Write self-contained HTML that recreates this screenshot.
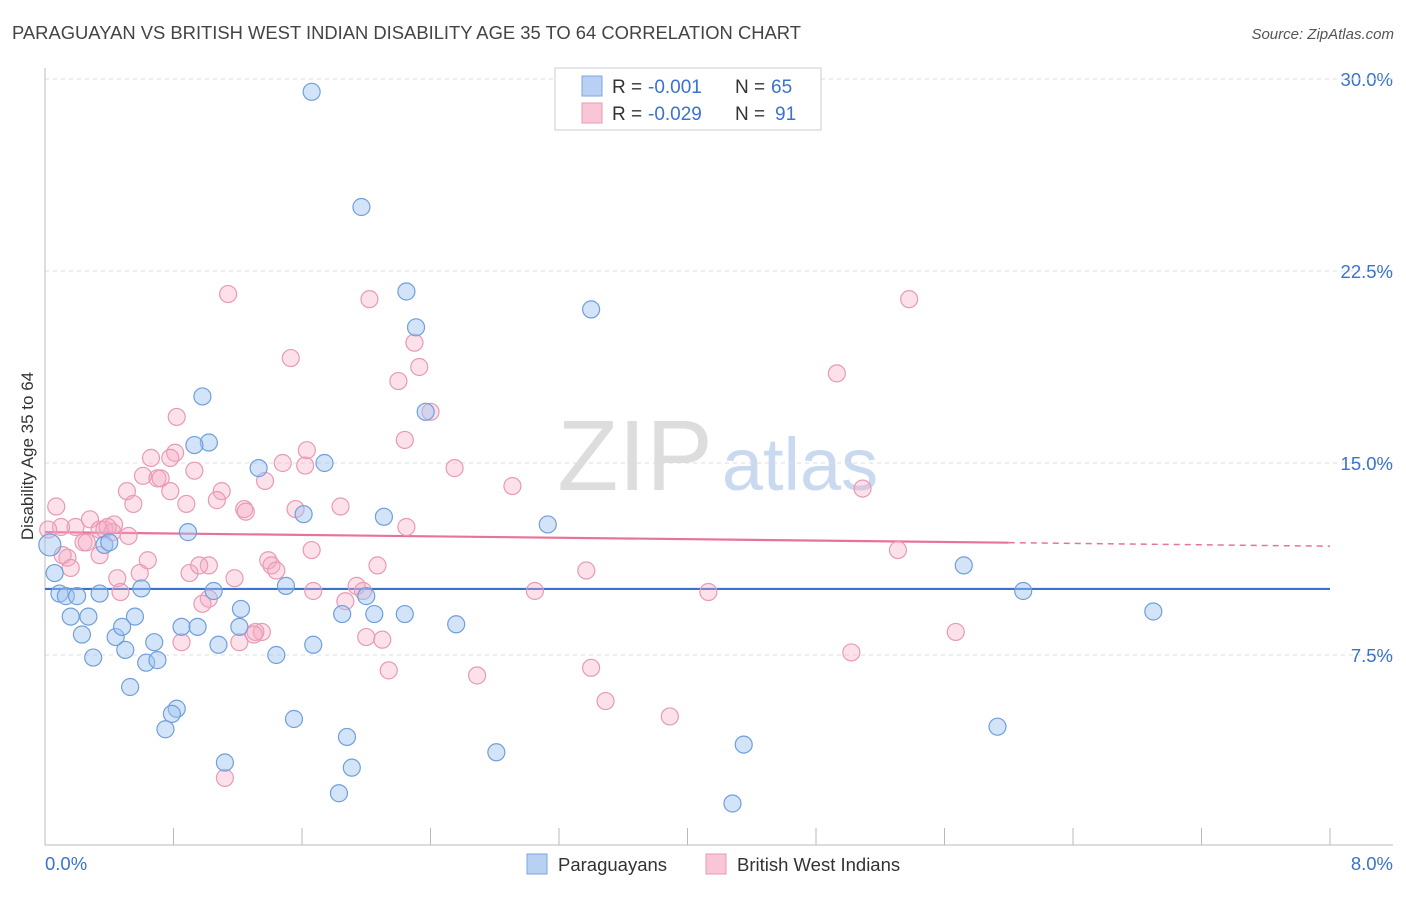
<!DOCTYPE html>
<html><head><meta charset="utf-8"><style>
body{margin:0;background:#fff;font-family:"Liberation Sans",sans-serif}
svg text{font-family:"Liberation Sans",sans-serif}
</style></head><body>
<svg id="chart" width="1406" height="892" xmlns="http://www.w3.org/2000/svg">
<text x="12" y="39" font-size="18.4" fill="#444">PARAGUAYAN VS BRITISH WEST INDIAN DISABILITY AGE 35 TO 64 CORRELATION CHART</text>
<text x="1394" y="39" font-size="15" fill="#555" text-anchor="end" font-style="italic">Source: ZipAtlas.com</text>
<g>
<text x="635" y="490" font-size="100" fill="#ddd" text-anchor="middle" font-family="Liberation Serif,serif">ZIP</text>
<text x="800" y="490" font-size="74" fill="#c9daf0" text-anchor="middle">atlas</text>
</g>
<g id="grid"></g>
<g id="axes"></g>
<g id="trends"></g>
<g id="points"></g>
<text transform="translate(33,456) rotate(-90)" font-size="17" fill="#333" text-anchor="middle">Disability Age 35 to 64</text>
<g>
<rect x="555" y="68" width="266" height="62" fill="#fff" stroke="#ccc"/>
<rect x="582" y="76" width="20" height="20" fill="#b8d1f3" stroke="#7aa6e0"/>
<rect x="582" y="103" width="20" height="20" fill="#f9c6d6" stroke="#e89ab5"/>
<text x="612" y="93" font-size="19" fill="#333">R =</text>
<text x="648" y="93" font-size="19" fill="#3a72d0">-0.001</text>
<text x="735" y="93" font-size="19" fill="#333">N =</text>
<text x="771" y="93" font-size="19" fill="#3a72d0">65</text>
<text x="612" y="120" font-size="19" fill="#333">R =</text>
<text x="648" y="120" font-size="19" fill="#3a72d0">-0.029</text>
<text x="735" y="120" font-size="19" fill="#333">N =</text>
<text x="775" y="120" font-size="19" fill="#3a72d0">91</text>
</g>
<g>
<rect x="527" y="854" width="20" height="20" fill="#b8d1f3" stroke="#7aa6e0"/>
<text x="558" y="871" font-size="18.5" fill="#333">Paraguayans</text>
<rect x="706" y="854" width="20" height="20" fill="#f9c6d6" stroke="#e89ab5"/>
<text x="737" y="871" font-size="18.5" fill="#333">British West Indians</text>
</g>
</svg>
<script>
const yTicks=[7.5,15.0,22.5,30.0];
const xTickLabels=["0.0%","8.0%"];
const blueX=[1.66,1.97,2.25,3.40,2.31,0.98,1.02,0.93,2.37,1.74,1.33,1.61,2.11,3.13,0.89,5.72,6.09,6.90,0.06,0.09,0.13,0.20,0.34,0.60,0.37,0.40,0.16,0.27,0.56,1.05,1.50,1.22,1.85,2.00,2.05,2.24,0.23,0.44,0.48,0.68,0.85,0.95,1.21,1.08,1.67,2.56,0.30,0.50,0.63,0.70,1.44,0.53,0.82,0.79,0.75,1.55,1.88,1.91,2.81,1.12,1.83,4.35,4.28,5.93,0.03];
const blueY=[29.5,25.0,21.7,21.0,20.3,17.6,15.8,15.7,17.0,15.0,14.8,13.0,12.9,12.6,12.3,11.0,10.0,9.2,10.7,9.9,9.8,9.8,9.9,10.1,11.8,11.9,9.0,9.0,9.0,10.0,10.2,9.3,9.1,9.8,9.1,9.1,8.3,8.2,8.6,8.0,8.6,8.6,8.6,7.9,7.9,8.7,7.4,7.7,7.2,7.3,7.5,6.25,5.4,5.2,4.6,5.0,4.3,3.1,3.7,3.3,2.1,4.0,1.7,4.7,11.8];
const pinkX=[1.14,2.02,5.38,1.53,2.30,2.33,2.20,4.93,0.82,2.40,2.24,1.63,0.81,0.66,0.78,1.62,1.48,0.93,2.55,0.61,0.70,0.72,1.37,0.51,0.78,1.10,1.07,0.55,0.88,1.24,1.25,1.56,1.84,2.91,5.09,0.07,0.28,0.19,0.10,0.34,0.37,0.43,0.52,0.24,0.26,0.42,2.25,1.66,5.31,0.14,0.34,0.64,1.39,1.41,2.07,3.37,0.90,1.02,0.96,1.18,0.59,0.45,1.44,0.47,1.67,1.94,3.05,4.13,1.02,0.98,1.87,1.98,1.35,1.31,1.30,1.21,2.00,2.10,0.85,5.67,5.02,3.40,2.14,2.69,3.49,3.89,1.12,0.02,0.16,0.11,0.39];
const pinkY=[21.6,21.4,21.4,19.1,19.7,18.75,18.2,18.5,16.8,17.0,15.9,15.5,15.4,15.2,15.2,14.9,15.0,14.7,14.8,14.5,14.4,14.4,14.3,13.9,13.9,13.9,13.55,13.4,13.4,13.2,13.1,13.2,13.3,14.1,14.0,13.3,12.8,12.5,12.5,12.4,12.4,12.6,12.15,11.9,11.9,12.3,12.5,11.6,11.6,11.3,11.4,11.2,11.2,11.0,11.0,10.8,10.7,11.0,11.0,10.5,10.7,10.5,10.8,9.96,10.0,10.2,10.0,9.96,9.7,9.5,9.6,10.0,8.4,8.4,8.3,8.0,8.2,8.1,8.0,8.4,7.6,7.0,6.9,6.7,5.7,5.1,2.7,12.4,10.9,11.4,12.5];
const blueTrend=[10.08,10.08];
const pinkTrend=[12.3,11.75];
const pinkSolidEnd=6.0;
const X0=45,X1=1330,Y0=847,PPY=25.6;
function sx(v){return X0+(X1-X0)*v/8;}
function sy(v){return Y0-v*PPY;}
const NS="http://www.w3.org/2000/svg";
function mk(p,t,a){const e=document.createElementNS(NS,t);for(const k in a)e.setAttribute(k,a[k]);p.appendChild(e);return e;}
const grid=document.getElementById('grid');
yTicks.forEach(t=>{
 const l=mk(grid,'line',{x1:45,x2:1393,y1:sy(t),y2:sy(t),stroke:'#ddd','stroke-dasharray':'4,4'});
 
 
 const tx=mk(grid,'text',{x:1393,y:sy(t)+7,'font-size':18.5,fill:'#3a72d0','text-anchor':'end'});
 tx.textContent=t.toFixed(1)+'%';
 
 
});
const topGrid=mk(grid,'line',{x1:45,x2:1393,y1:sy(30),y2:sy(30),stroke:'#ddd','stroke-dasharray':'4,4'});


const axes=document.getElementById('axes');
const ya=mk(axes,'line',{x1:45,x2:45,y1:68,y2:845,stroke:'#bbb'});


const xa=mk(axes,'line',{x1:45,x2:1393,y1:845,y2:845,stroke:'#bbb'});


for(let i=0;i<=10;i++){const t=mk(axes,'line',{x1:sx(i*0.8),x2:sx(i*0.8),y1:828,y2:845,stroke:'#bbb'});
 
 }
const xl0=mk(axes,'text',{x:45,y:870,'font-size':18.5,fill:'#3a72d0'});xl0.textContent=xTickLabels[0];


const xl1=mk(axes,'text',{x:1393,y:870,'font-size':18.5,fill:'#3a72d0','text-anchor':'end'});xl1.textContent=xTickLabels[1];


const pts=document.getElementById('points');
function dots(xs,ys,fill,stroke,name){xs.forEach((x,i)=>{
 const r=(x<0.1&&(i===xs.length-1||i===0))?11:8.5;
 const c=mk(pts,'circle',{cx:sx(x),cy:sy(ys[i]),r:r,fill:fill,stroke:stroke,'stroke-width':1.2});
 
 });}
dots(pinkX,pinkY,'rgba(245,170,195,0.35)','#e89ab5','point-british-west-indian');
dots(blueX,blueY,'rgba(160,196,240,0.45)','#6f9fdc','point-paraguayan');
const tr=document.getElementById('trends');
const bl=mk(tr,'line',{x1:sx(0),x2:sx(8),y1:sy(blueTrend[0]),y2:sy(blueTrend[1]),stroke:'#3a72d0','stroke-width':2.2});


const pm=pinkTrend[0]+(pinkTrend[1]-pinkTrend[0])*pinkSolidEnd/8;
const pl=mk(tr,'line',{x1:sx(0),x2:sx(pinkSolidEnd),y1:sy(pinkTrend[0]),y2:sy(pm),stroke:'#e8739a','stroke-width':2.2});


const pd=mk(tr,'line',{x1:sx(pinkSolidEnd),x2:sx(8),y1:sy(pm),y2:sy(pinkTrend[1]),stroke:'#e8739a','stroke-width':1.5,'stroke-dasharray':'6,5'});


</script>
</body></html>
